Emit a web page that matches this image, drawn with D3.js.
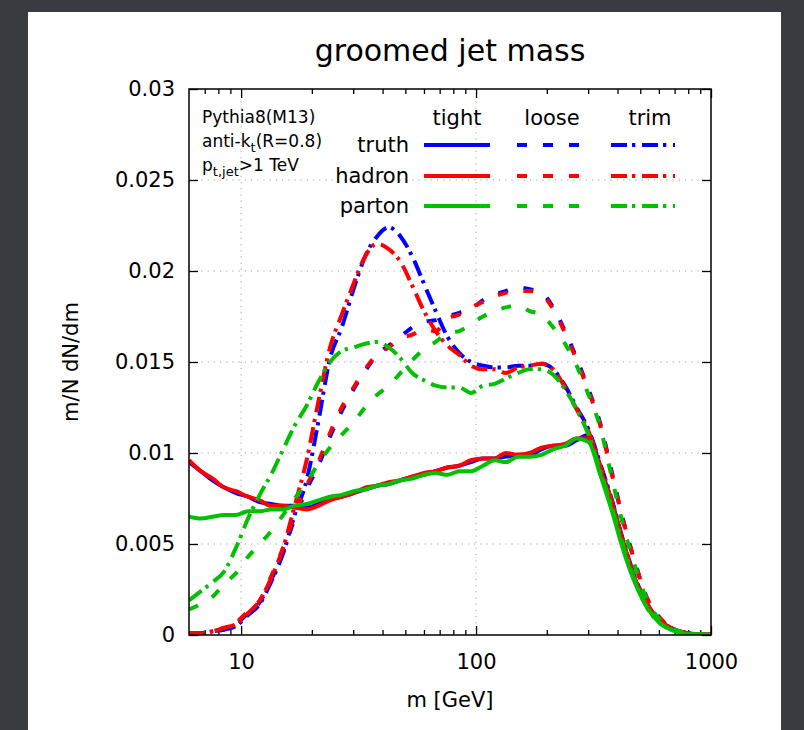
<!DOCTYPE html>
<html><head><meta charset="utf-8">
<script src="https://cdn.jsdelivr.net/npm/d3@7"></script>
<style>
html,body{margin:0;padding:0;background:#383b3f;}
svg{display:block;}
text{font-family:"DejaVu Sans",sans-serif;fill:#000;}
</style></head><body>
<svg id="chart" width="804" height="730"></svg>
<script>
// ---- data ----
const massGeV = [6.00,6.73,7.55,8.48,9.51,10.7,12.0,13.4,15.1,16.9,19.0,21.3,23.9,26.8,30.1,33.7,37.9,42.5,47.7,53.5,60.0,67.3,75.5,84.8,95.1,107,120,134,151,169,190,213,239,268,301,338,379,425,477,535,600,673,755,848,951,1000];

const tightTruth  = [0.0095,0.0090,0.0085,0.0081,0.0078,0.0076,0.0073,0.0072,0.0071,0.0071,0.0070,0.0072,0.0075,0.0076,0.0078,0.0080,0.0082,0.0083,0.0085,0.0087,0.0088,0.0090,0.0092,0.0093,0.0095,0.0097,0.0097,0.0098,0.0099,0.0099,0.0102,0.0104,0.0104,0.0107,0.0110,0.0092,0.0073,0.0050,0.0030,0.0017,0.0008,0.0004,0.00015,0.00005,0.00002,0.00001];
const tightHadron = [0.0096,0.0090,0.0086,0.0081,0.0079,0.0076,0.0074,0.0071,0.0071,0.0070,0.0069,0.0071,0.0074,0.0076,0.0078,0.0081,0.0082,0.0084,0.0085,0.0087,0.0089,0.0090,0.0092,0.0093,0.0096,0.0097,0.0097,0.0100,0.0099,0.0100,0.0103,0.0104,0.0105,0.0108,0.0108,0.0091,0.0072,0.0050,0.0030,0.0017,0.0008,0.0004,0.00015,0.00005,0.00002,0.00001];
const tightParton = [0.0065,0.0064,0.0065,0.0066,0.0066,0.0068,0.0068,0.0069,0.0069,0.0071,0.0072,0.0074,0.0076,0.0077,0.0079,0.0080,0.0082,0.0083,0.0085,0.0086,0.0088,0.0089,0.0088,0.0090,0.0090,0.0093,0.0096,0.0095,0.0098,0.0098,0.0099,0.0102,0.0104,0.0108,0.0106,0.0088,0.0068,0.0046,0.0028,0.0015,0.0007,0.0003,0.0001,0.00004,0.00001,0.00001];

const looseTruth  = [0.0001,0.0001,0.0002,0.0003,0.0006,0.0012,0.0018,0.0030,0.0046,0.0064,0.0080,0.0093,0.0109,0.0123,0.0135,0.0145,0.0154,0.0159,0.0164,0.0169,0.0172,0.0173,0.0175,0.0177,0.0179,0.0184,0.0187,0.0189,0.0191,0.0190,0.0188,0.0180,0.0167,0.0152,0.0135,0.0116,0.0089,0.0062,0.0039,0.0020,0.0010,0.0004,0.00015,0.00005,0.00002,0.00001];
const looseHadron = [0.0001,0.0001,0.0002,0.0004,0.0007,0.0013,0.0019,0.0032,0.0048,0.0066,0.0082,0.0095,0.0111,0.0125,0.0136,0.0146,0.0154,0.0158,0.0163,0.0165,0.0168,0.0167,0.0174,0.0176,0.0180,0.0183,0.0186,0.0188,0.0189,0.0189,0.0187,0.0179,0.0166,0.0151,0.0134,0.0115,0.0088,0.0062,0.0039,0.0020,0.0010,0.0004,0.00015,0.00005,0.00002,0.00001];
const looseParton = [0.0014,0.0017,0.0021,0.0028,0.0034,0.0043,0.0050,0.0057,0.0066,0.0075,0.0084,0.0094,0.0103,0.0110,0.0117,0.0125,0.0132,0.0137,0.0144,0.0151,0.0157,0.0161,0.0166,0.0167,0.0171,0.0175,0.0178,0.0180,0.0181,0.0178,0.0176,0.0169,0.0160,0.0148,0.0132,0.0114,0.0086,0.0059,0.0037,0.0019,0.0009,0.0004,0.00015,0.00005,0.00002,0.00001];

const trimTruth   = [0.0001,0.0001,0.0002,0.0003,0.0005,0.0011,0.0017,0.0029,0.0045,0.0066,0.0085,0.0117,0.0152,0.0169,0.0190,0.0208,0.0219,0.0224,0.0219,0.0208,0.0193,0.0178,0.0164,0.0155,0.0150,0.0148,0.0147,0.0147,0.0148,0.0148,0.0149,0.0146,0.0137,0.0125,0.0113,0.0094,0.0074,0.0051,0.0031,0.0017,0.0008,0.0004,0.00015,0.00005,0.00002,0.00001];
const trimHadron  = [0.0001,0.0001,0.0002,0.0004,0.0006,0.0012,0.0019,0.0031,0.0048,0.0071,0.0096,0.0128,0.0158,0.0176,0.0193,0.0208,0.0215,0.0212,0.0205,0.0192,0.0178,0.0167,0.0159,0.0154,0.0148,0.0146,0.0146,0.0144,0.0147,0.0148,0.0149,0.0146,0.0136,0.0124,0.0112,0.0093,0.0073,0.0050,0.0030,0.0017,0.0008,0.0004,0.00015,0.00005,0.00002,0.00001];
const trimParton  = [0.0019,0.0024,0.0029,0.0035,0.0048,0.0064,0.0077,0.0088,0.0102,0.0115,0.0126,0.0139,0.0150,0.0156,0.0158,0.0160,0.0161,0.0158,0.0152,0.0144,0.0140,0.0137,0.0136,0.0136,0.0133,0.0137,0.0138,0.0141,0.0144,0.0146,0.0146,0.0143,0.0135,0.0124,0.0110,0.0090,0.0070,0.0048,0.0029,0.0015,0.0007,0.0003,0.0001,0.00004,0.00001,0.00001];

const levels   = ["truth","hadron","parton"];
const groomers = ["tight","loose","trim"];
const yTickValues = [0,0.005,0.01,0.015,0.02,0.025,0.03];
const yTickLabels = ["0","0.005","0.01","0.015","0.02","0.025","0.03"];
const xTickValues = [10,100,1000];
const xTickLabels = ["10","100","1000"];
const xMinorTicks = [7,8,9,20,30,40,50,60,70,80,90,200,300,400,500,600,700,800,900];

const seriesValues = {
  truth:  {tight: tightTruth,  loose: looseTruth,  trim: trimTruth},
  hadron: {tight: tightHadron, loose: looseHadron, trim: trimHadron},
  parton: {tight: tightParton, loose: looseParton, trim: trimParton}
};

// ---- styles ----
const colors = {truth:"#0000ff", hadron:"#ff0000", parton:"#00c000"};
const dashes = {tight:null, loose:"10,16", trim:"16,5,3.3,6.7"};
const LW = 4;

const plot = {left:189, right:711, top:89, bottom:635};
const svg = d3.select("#chart");
svg.append("rect").attr("x",28).attr("y",12).attr("width",753).attr("height",718).attr("fill","#ffffff");

const x = d3.scaleLog().domain([6,1000]).range([plot.left, plot.right]);
const y = d3.scaleLinear().domain([0,0.03]).range([plot.bottom, plot.top]);

// grid
const grid = svg.append("g").attr("stroke","#a0a0a0").attr("stroke-width",1).attr("stroke-dasharray","1.2,5");
grid.selectAll("line.gy").data(yTickValues.slice(1,-1)).enter().append("line")
  .attr("x1",plot.left).attr("x2",plot.right).attr("y1",d=>y(d)).attr("y2",d=>y(d));
grid.selectAll("line.gx").data(xTickValues.slice(0,2)).enter().append("line")
  .attr("y1",plot.top).attr("y2",plot.bottom).attr("x1",d=>x(d)).attr("x2",d=>x(d));

// axes
function styleAxis(g){
  g.select(".domain").remove();
  g.selectAll(".tick line").attr("stroke","#000").attr("stroke-width",1.3);
  g.selectAll("text").attr("font-size",21).attr("font-family","DejaVu Sans, sans-serif").attr("fill","#000");
}
svg.append("g").attr("transform",`translate(${plot.left},0)`)
  .call(d3.axisLeft(y).tickValues(yTickValues).tickFormat((d,i)=>yTickLabels[i]).tickSize(-9).tickPadding(14))
  .call(styleAxis);
svg.append("g").attr("transform",`translate(${plot.right},0)`)
  .call(d3.axisRight(y).tickValues(yTickValues).tickFormat("").tickSize(-9))
  .call(styleAxis);
svg.append("g").attr("transform",`translate(0,${plot.bottom})`)
  .call(d3.axisBottom(x).tickValues(xTickValues).tickFormat((d,i)=>xTickLabels[i]).tickSize(-9).tickPadding(19))
  .call(styleAxis);
svg.append("g").attr("transform",`translate(0,${plot.bottom})`)
  .call(d3.axisBottom(x).tickValues(xMinorTicks).tickFormat("").tickSize(-5))
  .call(styleAxis);
svg.append("g").attr("transform",`translate(0,${plot.top})`)
  .call(d3.axisTop(x).tickValues(xTickValues).tickFormat("").tickSize(-9))
  .call(styleAxis);
svg.append("g").attr("transform",`translate(0,${plot.top})`)
  .call(d3.axisTop(x).tickValues(xMinorTicks).tickFormat("").tickSize(-5))
  .call(styleAxis);

// curves
svg.append("clipPath").attr("id","clip").append("rect")
  .attr("x",plot.left).attr("y",plot.top-4).attr("width",plot.right-plot.left).attr("height",plot.bottom-plot.top+4);
const line = d3.line().x((d,i)=>x(massGeV[i])).y(d=>y(d)).curve(d3.curveMonotoneX);
const curves = svg.append("g").attr("clip-path","url(#clip)");
levels.forEach(lv=>{
  groomers.forEach(gr=>{
    curves.append("path").datum(seriesValues[lv][gr])
      .attr("d",line).attr("fill","none").attr("stroke",colors[lv])
      .attr("stroke-width",LW).attr("stroke-linejoin","round").attr("stroke-linecap","butt")
      .attr("stroke-dasharray",dashes[gr]);
  });
});

// border
svg.append("rect").attr("x",plot.left).attr("y",plot.top)
  .attr("width",plot.right-plot.left).attr("height",plot.bottom-plot.top)
  .attr("fill","none").attr("stroke","#000").attr("stroke-width",1.5);

// legend
const legend = svg.append("g").attr("font-size",21);
const colX = {tight:[424,490], loose:[517,580], trim:[611,675]};
const headX = {tight:457, loose:552, trim:650};
const rowY = {truth:145, hadron:176, parton:206};
groomers.forEach(gr=>{
  legend.append("text").attr("x",headX[gr]).attr("y",125).attr("text-anchor","middle").text(gr);
});
levels.forEach(lv=>{
  legend.append("text").attr("x",409).attr("y",rowY[lv]+7).attr("text-anchor","end").text(lv);
  groomers.forEach(gr=>{
    legend.append("line").attr("x1",colX[gr][0]).attr("x2",colX[gr][1])
      .attr("y1",rowY[lv]).attr("y2",rowY[lv])
      .attr("stroke",colors[lv]).attr("stroke-width",LW).attr("stroke-dasharray",dashes[gr]);
  });
});

// inset labels
const inset = svg.append("g").attr("font-size",17);
inset.append("text").attr("x",202).attr("y",123).text("Pythia8(M13)");
const t2 = inset.append("text").attr("x",202).attr("y",147);
t2.append("tspan").text("anti-k");
t2.append("tspan").attr("font-size",13).attr("dy",5).text("t");
t2.append("tspan").attr("dy",-5).text("(R=0.8)");
const t3 = inset.append("text").attr("x",202).attr("y",171);
t3.append("tspan").text("p");
t3.append("tspan").attr("font-size",13).attr("dy",5).text("t,jet");
t3.append("tspan").attr("dy",-5).text(">1 TeV");

// titles
svg.append("text").attr("x",450).attr("y",61).attr("text-anchor","middle").attr("font-size",30).text("groomed jet mass");
svg.append("text").attr("x",450).attr("y",707).attr("text-anchor","middle").attr("font-size",21).text("m [GeV]");
svg.append("text").attr("transform","translate(78,362) rotate(-90)").attr("text-anchor","middle").attr("font-size",21).text("m/N dN/dm");
</script>
</body></html>
